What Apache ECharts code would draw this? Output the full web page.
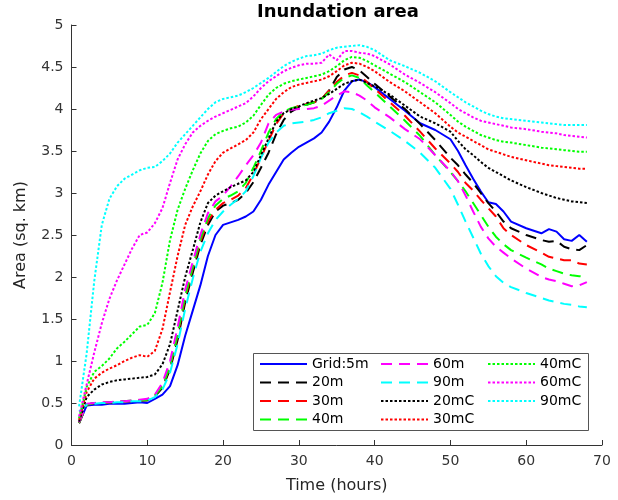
<!DOCTYPE html>
<html>
<head>
<meta charset="utf-8">
<script src="https://cdn.jsdelivr.net/npm/echarts@6/dist/echarts.min.js"></script>
<style>html,body{margin:0;padding:0;background:#fff}#c{width:618px;height:500px}</style>
</head>
<body>
<div id="c"></div>
<script>
var hours = [1,2,3,4,5,6,7,8,9,10,11,12,13,14,15,16,17,18,19,20,21,22,23,24,25,26,27,28,29,30,31,32,33,34,35,36,37,38,39,40,42,44,46,48,50,51,52,53,54,55,56,57,58,60,62,63,64,65,66,67,68];

var grid5m = [0.26,0.47,0.48,0.48,0.49,0.49,0.49,0.5,0.51,0.5,0.55,0.6,0.7,0.95,1.3,1.6,1.9,2.25,2.5,2.62,2.65,2.68,2.72,2.78,2.92,3.1,3.25,3.4,3.48,3.55,3.6,3.65,3.72,3.85,4.02,4.22,4.33,4.35,4.32,4.26,4.12,3.98,3.83,3.75,3.64,3.5,3.33,3.17,3.02,2.89,2.87,2.78,2.66,2.58,2.52,2.57,2.54,2.45,2.43,2.5,2.42];
var m20 = [0.26,0.48,0.5,0.5,0.51,0.51,0.52,0.52,0.53,0.53,0.58,0.68,0.9,1.25,1.7,2.05,2.38,2.62,2.78,2.85,2.88,2.92,3.0,3.13,3.3,3.48,3.7,3.87,3.97,4.02,4.05,4.08,4.12,4.22,4.38,4.47,4.5,4.46,4.38,4.3,4.15,4.0,3.82,3.63,3.42,3.33,3.22,3.12,3.0,2.88,2.78,2.66,2.58,2.5,2.44,2.42,2.43,2.36,2.33,2.32,2.38];
var m30 = [0.26,0.48,0.5,0.5,0.51,0.51,0.52,0.52,0.53,0.54,0.59,0.7,0.93,1.3,1.75,2.1,2.42,2.66,2.8,2.88,2.92,2.97,3.06,3.22,3.42,3.62,3.82,3.95,4.0,4.04,4.06,4.08,4.12,4.22,4.32,4.4,4.43,4.4,4.32,4.24,4.08,3.92,3.73,3.53,3.35,3.25,3.12,3.03,2.92,2.82,2.72,2.58,2.5,2.38,2.29,2.24,2.22,2.2,2.2,2.16,2.15];
var m40 = [0.26,0.48,0.5,0.5,0.51,0.51,0.52,0.53,0.53,0.54,0.59,0.7,0.94,1.32,1.78,2.12,2.45,2.7,2.85,2.93,2.97,3.02,3.12,3.3,3.5,3.72,3.88,3.97,4.01,4.03,4.05,4.08,4.12,4.2,4.3,4.37,4.4,4.37,4.28,4.2,4.03,3.86,3.68,3.45,3.25,3.14,3.02,2.88,2.74,2.6,2.48,2.39,2.32,2.23,2.15,2.1,2.07,2.04,2.02,2.01,2.0];
var m60 = [0.27,0.49,0.5,0.51,0.51,0.52,0.52,0.53,0.54,0.55,0.6,0.74,1.0,1.4,1.85,2.18,2.5,2.76,2.9,2.97,3.08,3.2,3.33,3.45,3.6,3.83,3.93,3.97,3.99,4.0,4.0,4.01,4.04,4.1,4.16,4.21,4.2,4.16,4.1,4.02,3.9,3.76,3.64,3.45,3.26,3.14,2.97,2.78,2.6,2.46,2.36,2.29,2.22,2.1,2.0,1.97,1.95,1.92,1.89,1.9,1.94];
var m90 = [0.4,0.48,0.49,0.5,0.5,0.51,0.51,0.52,0.52,0.53,0.57,0.66,0.86,1.2,1.62,1.98,2.3,2.52,2.68,2.78,2.86,2.93,3.02,3.2,3.42,3.6,3.72,3.8,3.83,3.84,3.85,3.87,3.9,3.95,3.98,4.01,4.0,3.96,3.91,3.85,3.74,3.62,3.48,3.3,3.05,2.86,2.66,2.47,2.28,2.13,2.01,1.93,1.88,1.81,1.75,1.72,1.7,1.68,1.67,1.65,1.64];
var m20C = [0.28,0.57,0.66,0.72,0.75,0.77,0.78,0.79,0.8,0.81,0.84,0.96,1.2,1.6,2.0,2.32,2.65,2.88,2.97,3.02,3.07,3.11,3.15,3.25,3.45,3.65,3.85,3.95,4.0,4.03,4.07,4.1,4.13,4.18,4.24,4.3,4.33,4.35,4.31,4.27,4.17,4.04,3.91,3.83,3.73,3.62,3.52,3.45,3.37,3.3,3.25,3.2,3.15,3.07,3.0,2.97,2.94,2.92,2.9,2.89,2.88];
var m30C = [0.3,0.63,0.79,0.86,0.91,0.95,1.0,1.04,1.07,1.05,1.12,1.38,1.82,2.25,2.62,2.84,3.02,3.22,3.38,3.48,3.53,3.58,3.63,3.72,3.88,4.0,4.12,4.2,4.26,4.29,4.31,4.33,4.35,4.39,4.45,4.52,4.55,4.54,4.5,4.45,4.32,4.21,4.08,3.95,3.79,3.72,3.67,3.62,3.57,3.52,3.49,3.46,3.43,3.39,3.35,3.33,3.32,3.31,3.3,3.29,3.29];
var m40C = [0.32,0.69,0.87,0.94,1.03,1.15,1.23,1.32,1.41,1.43,1.57,1.93,2.44,2.8,3.05,3.27,3.47,3.62,3.7,3.74,3.77,3.79,3.84,3.92,4.05,4.17,4.25,4.3,4.33,4.35,4.37,4.39,4.41,4.45,4.51,4.58,4.62,4.61,4.57,4.52,4.42,4.32,4.2,4.08,3.93,3.85,3.79,3.74,3.69,3.66,3.63,3.61,3.6,3.57,3.54,3.53,3.52,3.51,3.5,3.49,3.49];
var m60C = [0.34,0.72,1.1,1.45,1.74,1.96,2.15,2.34,2.5,2.53,2.64,2.82,3.12,3.4,3.58,3.72,3.8,3.86,3.91,3.95,3.99,4.03,4.07,4.15,4.25,4.33,4.39,4.45,4.49,4.52,4.54,4.54,4.55,4.65,4.58,4.69,4.69,4.67,4.66,4.63,4.53,4.41,4.31,4.2,4.07,4.0,3.95,3.9,3.86,3.84,3.82,3.8,3.78,3.76,3.73,3.72,3.71,3.69,3.68,3.67,3.66];
var m90C = [0.46,1.09,1.95,2.62,2.93,3.08,3.17,3.22,3.27,3.3,3.31,3.38,3.47,3.6,3.7,3.8,3.9,4.0,4.08,4.12,4.14,4.16,4.2,4.25,4.31,4.37,4.44,4.51,4.56,4.6,4.63,4.64,4.66,4.7,4.73,4.74,4.75,4.76,4.74,4.7,4.58,4.51,4.43,4.33,4.2,4.14,4.08,4.03,3.98,3.94,3.91,3.89,3.88,3.86,3.84,3.83,3.82,3.81,3.81,3.81,3.81];

var seriesNames = ['Grid:5m','20m','30m','40m','60m','90m','20mC','30mC','40mC','60mC','90mC'];
var seriesValues = [grid5m,m20,m30,m40,m60,m90,m20C,m30C,m40C,m60C,m90C];
var seriesColors = ['#0000ff','#000000','#ff0000','#00ff00','#ff00ff','#00ffff','#000000','#ff0000','#00ff00','#ff00ff','#00ffff'];
var seriesDash = ['solid','dash','dash','dash','dash','dash','dot','dot','dot','dot','dot'];
var xTicks = [0,10,20,30,40,50,60,70];
var yTicks = [0,0.5,1,1.5,2,2.5,3,3.5,4,4.5,5];

var FONT = 'DejaVu Sans';
function dashType(d){ if(d==='dash') return [11,7]; if(d==='dot') return [2.5,2]; return 'solid'; }

var series = seriesNames.map(function(n,i){
  return {
    name: n, type: 'line', symbol: 'none', z: 2,
    data: hours.map(function(h,k){ return [h, seriesValues[i][k]]; }),
    lineStyle: { color: seriesColors[i], width: 2, type: dashType(seriesDash[i]) },
    itemStyle: { color: seriesColors[i] },
    emphasis: { disabled: true },
    animation: false
  };
});

function mkLegend(names, left){
  return {
    data: names, orient: 'vertical', left: left, top: 357, padding: 0,
    itemWidth: 47, itemHeight: 14, itemGap: 4.5, z: 5,
    itemStyle: { opacity: 0 },
    textStyle: { fontFamily: FONT, fontSize: 14, color: '#000' },
    selectedMode: false
  };
}

var chart = echarts.init(document.getElementById('c'), null, { renderer: 'canvas' });
chart.setOption({
  animation: false,
  backgroundColor: '#fff',
  title: { text: 'Inundation area', left: 257, top: 3, padding: 0,
    textStyle: { fontFamily: FONT, fontSize: 18, fontWeight: 'bold', color: '#000' } },
  grid: { left: 71.5, right: 16, top: 25, bottom: 55, containLabel: false },
  xAxis: {
    type: 'value', min: xTicks[0], max: xTicks[xTicks.length-1], interval: 10,
    name: 'Time (hours)', nameLocation: 'middle', nameGap: 33,
    nameTextStyle: { fontFamily: FONT, fontSize: 16, color: '#262626' },
    axisLine: { show: true, lineStyle: { color: '#333', width: 1 } },
    axisTick: { show: true, inside: true, length: 5, lineStyle: { color: '#333' } },
    axisLabel: { fontFamily: FONT, fontSize: 14, color: '#333', margin: 9 },
    splitLine: { show: false }
  },
  yAxis: {
    type: 'value', min: yTicks[0], max: yTicks[yTicks.length-1], interval: 0.5,
    name: 'Area (sq. km)', nameLocation: 'middle', nameGap: 43,
    nameTextStyle: { fontFamily: FONT, fontSize: 16, color: '#262626' },
    axisLine: { show: true, lineStyle: { color: '#333', width: 1 } },
    axisTick: { show: true, inside: true, length: 5, lineStyle: { color: '#333' } },
    axisLabel: { fontFamily: FONT, fontSize: 14, color: '#333', margin: 8 },
    splitLine: { show: false }
  },
  legend: [
    mkLegend(seriesNames.slice(0,4), 259),
    mkLegend(seriesNames.slice(4,8), 380),
    mkLegend(seriesNames.slice(8,11), 487)
  ],
  graphic: [{
    type: 'rect', z: 4, silent: true,
    shape: { x: 253.5, y: 353.5, width: 335, height: 77 },
    style: { fill: '#fff', stroke: '#555', lineWidth: 1 }
  }],
  series: series
});
</script>
</body>
</html>
